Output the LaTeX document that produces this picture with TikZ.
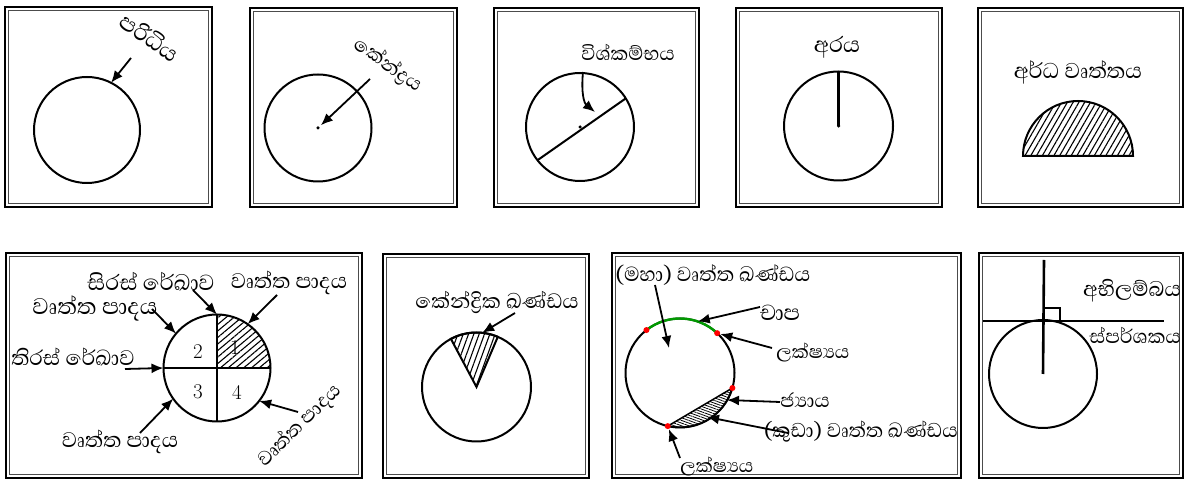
\documentclass[tikz,border=0pt]{standalone}
\usepackage{fontspec}
\newfontfamily\sinhalafont[Script=Sinhala]{Abhaya Libre}
\usetikzlibrary{arrows.meta,patterns.meta}

\tikzset{
  ring/.style={circle,draw,line width=2pt,inner sep=0pt,outer sep=0pt},
  pointer/.style={line width=1.8pt,-{Latex[length=12pt,width=10pt]}},
  lbl/.style={font=\sinhalafont\fontsize{#1}{#1}\selectfont,inner sep=0pt},
  lbl/.default=28,
  num/.style={font=\fontsize{21}{21}\selectfont,inner sep=0pt},
  dot/.style={circle,fill,inner sep=0pt,minimum size=3.5pt},
  reddot/.style={circle,fill=red,inner sep=0pt,minimum size=6pt},
  hatch/.style={pattern={Lines[angle=#1,distance=5pt,line width=1.1pt]}},
}
\newcommand{\twoframe}[4]{%
  \draw[line width=2pt] (#1+1,#2+1) rectangle (#3-1,#4-1);
  \draw[line width=0.8pt,black!70] (#1+4.5,#2+4.5) rectangle (#3-4.5,#4-4.5);
}

\begin{document}
\begin{tikzpicture}[x=1pt,y=1pt]
  \useasboundingbox (0,0) rectangle (1185,481);

  % top row
  \twoframe{4}{273}{213}{475}
  \node[ring,minimum size=106pt] (c1) at (87,351) {};
  \node[lbl=29,rotate=-35] (l1) at (150,444) {පරිධිය};
  \coordinate (t1) at (131,423);
  \draw[pointer] (t1) -- (c1.63);

  \twoframe{249}{273}{458}{474}
  \node[ring,minimum size=107pt] (c2) at (318,353) {};
  \node[dot] (o2) at (c2) {};
  \node[lbl=25,rotate=-35] (l2) at (388,416) {කේන්ද්‍රය};
  \coordinate (t2) at (370,402);
  \draw[pointer,shorten >=2pt] (t2) -- (o2);

  \twoframe{493}{273}{700}{474}
  \node[ring,minimum size=108pt] (c3) at (580,354) {};
  \node[dot] (o3) at (c3) {};
  \draw[line width=2pt] (c3.218) -- (c3.32);
  \node[lbl=25] (l3) at (628,429) {විශ්කම්භය};
  \coordinate (t3) at (583,409);
  \coordinate (h3) at (595,369);
  \draw[pointer] (t3) .. controls (581,388) and (584,378) .. (h3);

  \twoframe{735}{273}{943}{474}
  \node[ring,minimum size=109pt] (c4) at (838.5,355) {};
  \node[dot] (o4) at (c4) {};
  \draw[line width=3pt] (o4.center) -- (c4.north);
  \node[lbl] (l4) at (837,434) {අරය};

  \twoframe{977}{273}{1184}{474}
  \draw[line width=2pt,hatch=60] (1023,325) arc[start angle=180,end angle=0,radius=55] -- cycle;
  \node[lbl=27.5] (l5) at (1078,409) {අර්ධ වෘත්තය};

  % bottom row
  \twoframe{5}{2}{363}{229}
  \node[ring,minimum size=107pt] (c6) at (217,113) {};
  \path[hatch=40] (c6.center) -- (c6.east) arc[start angle=0,end angle=90,radius=53.5] -- cycle;
  \draw[line width=2pt] (c6.north) -- (c6.south);
  \draw[line width=2pt] (c6.west) -- (c6.east);
  \node[num] (q1) at (235,133) {1};
  \node[num] (q2) at (198,129) {2};
  \node[num] (q3) at (198,89) {3};
  \node[num] (q4) at (237,89) {4};
  \node[lbl] (l6a) at (151,199) {සිරස් රේඛාව};
  \coordinate (t6a) at (193,191);
  \draw[pointer] (t6a) -- (c6.north);
  \node[lbl=27] (l6b) at (289,198) {වෘත්ත පාදය};
  \coordinate (t6b) at (277,186);
  \draw[pointer] (t6b) -- (c6.55);
  \node[lbl=29] (l6c) at (95,173) {වෘත්ත පාදය};
  \coordinate (t6c) at (152,172);
  \draw[pointer] (t6c) -- (c6.140);
  \node[lbl=27] (l6d) at (73,124) {තිරස් රේඛාව};
  \coordinate (t6d) at (125,112);
  \draw[pointer] (t6d) -- (c6.west);
  \node[lbl=27] (l6e) at (120,39) {වෘත්ත පාදය};
  \coordinate (t6e) at (140,48);
  \draw[pointer] (t6e) -- (c6.215);
  \node[lbl=25,rotate=45] (l6f) at (300,55) {වෘත්ත පාදය};
  \coordinate (t6f) at (298,69);
  \draw[pointer] (t6f) -- (c6.322);

  \twoframe{382}{2}{590}{228}
  \node[ring,minimum size=109pt] (c7) at (476.5,94) {};
  \draw[line width=2pt,hatch=70] (c7.center) -- (c7.67) arc[start angle=67,end angle=118,radius=54.5] -- cycle;
  \node[lbl=26.5] (l7) at (497,179) {කේන්ද්‍රික ඛණ්ඩය};
  \coordinate (t7) at (515,168);
  \draw[pointer] (t7) -- (c7.84);

  \twoframe{611}{2}{962}{229}
  \node[ring,minimum size=109pt] (c8) at (680,108) {};
  \draw[green!60!black,line width=2.4pt] (c8.128) arc[start angle=128,end angle=47,radius=54.5];
  \draw[line width=1.5pt,pattern={Lines[angle=160,distance=2.5pt,line width=0.8pt]}] (c8.257) arc[start angle=257,end angle=344,radius=54.5] -- cycle;
  \node[reddot] (d1) at (c8.128) {};
  \node[reddot] (d2) at (c8.47) {};
  \node[reddot] (d3) at (c8.344) {};
  \node[reddot] (d4) at (c8.257) {};
  \node[lbl=26] (l8a) at (713,206) {(මහා) වෘත්ත ඛණ්ඩය};
  \coordinate (t8a) at (655,196);
  \coordinate (h8a) at (669,133);
  \draw[pointer] (t8a) -- (h8a);
  \node[lbl] (l8b) at (780,168) {චාප};
  \coordinate (t8b) at (760,174);
  \draw[pointer] (t8b) -- (c8.71);
  \node[lbl=24] (l8c) at (813,129) {ලක්ෂ්‍යය};
  \coordinate (t8c) at (772,133);
  \draw[pointer] (t8c) -- (d2);
  \node[lbl=25] (l8d) at (805,81) {ජ්‍යාය};
  \coordinate (t8d) at (780,79);
  \coordinate (h8d) at (727,81);
  \draw[pointer] (t8d) -- (h8d);
  \node[lbl=25.5] (l8e) at (861,49) {(කුඩා) වෘත්ත ඛණ්ඩය};
  \coordinate (t8e) at (788,48);
  \coordinate (h8e) at (707,64);
  \draw[pointer] (t8e) -- (h8e);
  \node[lbl=24] (l8f) at (717,15) {ලක්ෂ්‍යය};
  \coordinate (t8f) at (680,23);
  \draw[pointer] (t8f) -- (d4);

  \twoframe{978}{2}{1184}{229}
  \node[ring,minimum size=108pt] (c9) at (1043,107) {};
  \coordinate (n9) at (1044,221);
  \draw[line width=2.6pt] (n9) -- (c9.center);
  \coordinate (a9) at (983,160);
  \coordinate (b9) at (1164,160);
  \draw[line width=2.6pt] (a9) -- (b9);
  \draw[line width=1.6pt] (1044,160) rectangle (1060,173);
  \node[lbl=27] (l9a) at (1132,190) {අභිලම්බය};
  \node[lbl=25] (l9b) at (1135,146) {ස්පර්ශකය};
\end{tikzpicture}
\end{document}
